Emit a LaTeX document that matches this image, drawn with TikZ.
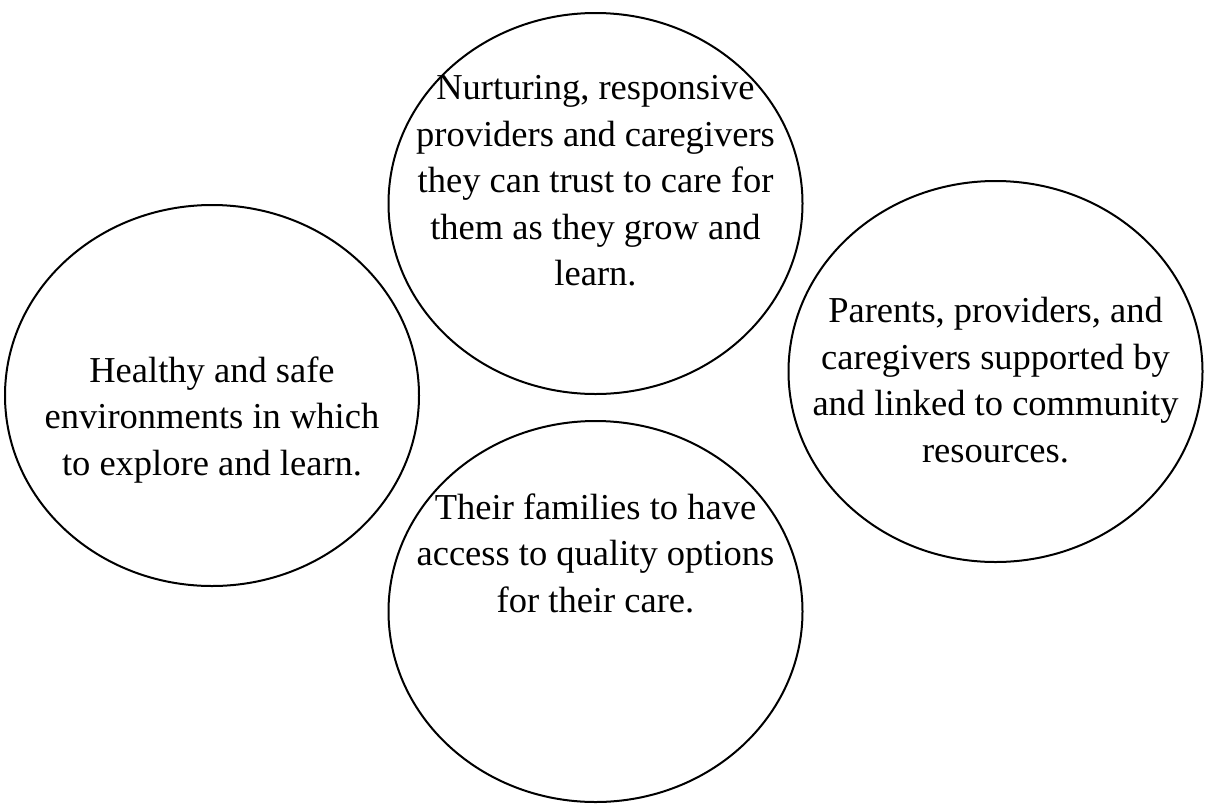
\documentclass[tikz,border=0pt]{standalone}
\usepackage{fontspec}
\setmainfont{Liberation Serif}
\usetikzlibrary{shapes.geometric}
\tikzset{
  bubble/.style={draw, line width=2pt, ellipse, minimum width=414pt,
    minimum height=381pt, inner sep=0pt},
  bubbletext/.style={align=center, inner sep=0pt,
    font=\fontsize{36.5}{46.5}\selectfont}
}
\begin{document}
\begin{tikzpicture}[x=1pt, y=-1pt]
    \useasboundingbox (0,0) rectangle (1209,804);
    % bubble centres
    \coordinate (carec) at (595.5, 203.5);
    \coordinate (safec) at (212, 395.5);
    \coordinate (linkc) at (995.5, 371.5);
    \coordinate (accessc) at (595.5, 611.5);
    % bubbles
    \node [bubble] (care) at (carec) {};
    \node [bubble] (safe) at (safec) {};
    \node [bubble] (link) at (linkc) {};
    \node [bubble] (access) at (accessc) {};
    % texts
    \node [bubbletext] (caretext) at (595.5, 181) {Nurturing, responsive\\providers and caregivers\\they can trust to care for\\them as they grow and\\learn.};
    \node [bubbletext] (safetext) at (212, 420) {Healthy and safe\\environments in which\\to explore and learn.};
    \node [bubbletext] (linktext) at (995.5, 380) {Parents, providers, and\\caregivers supported by\\and linked to community\\resources.};
    \node [bubbletext] (accesstext) at (595.5, 553) {Their families to have\\access to quality options\\for their care.};
\end{tikzpicture}
\end{document}
